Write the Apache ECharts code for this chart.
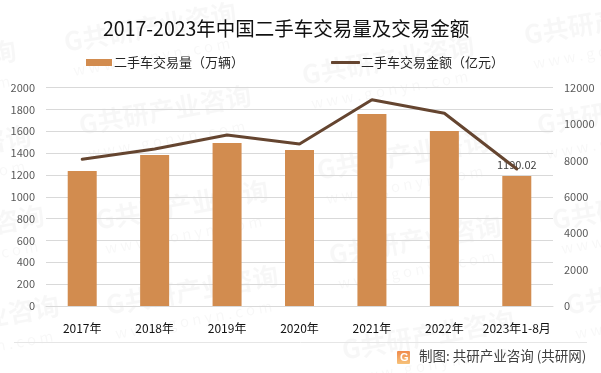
<!DOCTYPE html>
<html>
<head>
<meta charset="utf-8">
<style>
html,body{margin:0;padding:0;background:#fff;}
#main{width:601px;height:373px;}
</style>
<script src="https://cdn.jsdelivr.net/npm/echarts@6/dist/echarts.min.js"></script>
</head>
<body>
<div id="main"></div>
<script>
var categories = ['2017年','2018年','2019年','2020年','2021年','2022年','2023年1-8月'];
var volumeValues = [1236,1382,1492,1428,1758,1602,1190.02];
var amountValues = [8057,8622,9391,8897,11330,10583,7524];
var volumeName = '二手车交易量（万辆）';
var amountName = '二手车交易金额（亿元）';
var titleText = '2017-2023年中国二手车交易量及交易金额';
var footText = '制图: 共研产业咨询 (共研网)';

// 水印位置
var markPos = [
    [-155,85],[-140,170],[-127,250],[-112,340],
    [65,47],[80,130],[97,225],[107,310],
    [303,80],[318,175],[330,260],[343,355],
    [525,40],[538,130],[553,225],[567,310]
];

var font = '"Noto Sans CJK SC","Noto Sans",sans-serif';
var graphics = [];
for (var i = 0; i < markPos.length; i++) {
    graphics.push({
        type: 'group',
        x: markPos[i][0],
        y: markPos[i][1],
        rotation: 10 * Math.PI / 180,
        silent: true,
        z: -10,
        children: [
            {type: 'text', x: 0, y: -18, style: {text: 'G共研产业咨询', font: 'bold 26px ' + font, fill: 'rgba(0,0,0,0.032)'}},
            {type: 'text', x: 4, y: 17, style: {text: 'w w w . g o n y n . c o m', font: '15px ' + font, fill: 'rgba(0,0,0,0.032)'}}
        ]
    });
}
// 底部分割线
graphics.push({type: 'line', silent: true, shape: {x1: 14, y1: 342.5, x2: 587, y2: 342.5}, style: {stroke: '#e6e6e6', lineWidth: 1}});
// logo
graphics.push({type: 'rect', silent: true, shape: {x: 397, y: 351, width: 13, height: 13, r: 1},
    style: {fill: new echarts.graphic.LinearGradient(0, 0, 0, 1, [
        {offset: 0, color: '#f08a4b'},
        {offset: 1, color: '#f6c27a'}
    ])}});
graphics.push({type: 'text', silent: true, x: 400, y: 352, style: {text: 'G', font: 'bold 11px "Liberation Sans"', fill: '#fff'}});
graphics.push({type: 'text', silent: true, x: 419, y: 349, style: {text: footText, font: '13.5px ' + font, fill: '#404040'}});

function plainNum(v) {
    return String(v);
}

var chart = echarts.init(document.getElementById('main'));
var option = {
    animation: false,
    backgroundColor: '#fff',
    title: {
        text: titleText,
        left: 103,
        top: 19,
        padding: 0,
        textStyle: {color: '#111', fontSize: 19.5, fontWeight: 'normal', fontFamily: font}
    },
    legend: [{
        left: 86,
        top: 56,
        padding: 0,
        icon: 'rect',
        itemWidth: 26,
        itemHeight: 7,
        selectedMode: false,
        textStyle: {color: '#262626', fontSize: 13, fontFamily: font, padding: [0, 0, 0, -3]},
        data: [volumeName]
    }, {
        left: 331,
        top: 56,
        padding: 0,
        icon: 'roundRect',
        itemWidth: 29,
        itemHeight: 3,
        selectedMode: false,
        textStyle: {color: '#262626', fontSize: 13, fontFamily: font, padding: [0, 0, 0, -4]},
        data: [amountName]
    }],
    grid: {left: 46, right: 48, top: 87.5, bottom: 67},
    xAxis: {
        type: 'category',
        data: categories,
        axisLine: {lineStyle: {color: '#d9d9d9', width: 1}},
        axisTick: {show: false},
        axisLabel: {color: '#111', fontSize: 12, fontFamily: font, margin: 16, interval: 0}
    },
    yAxis: [{
        type: 'value',
        min: 0,
        max: 2000,
        interval: 200,
        axisLine: {show: false},
        axisTick: {show: false},
        axisLabel: {color: '#595959', fontSize: 11, fontFamily: font, margin: 11, formatter: plainNum},
        splitLine: {lineStyle: {color: '#d9d9d9', width: 1}}
    }, {
        type: 'value',
        min: 0,
        max: 12000,
        interval: 2000,
        axisLine: {show: false},
        axisTick: {show: false},
        axisLabel: {color: '#595959', fontSize: 11, fontFamily: font, margin: 11, formatter: plainNum},
        splitLine: {show: false}
    }],
    series: [{
        name: volumeName,
        type: 'bar',
        barWidth: 29,
        yAxisIndex: 0,
        itemStyle: {color: '#d28c4f'},
        label: {
            show: true,
            position: 'top',
            offset: [0, -1],
            color: '#404040',
            fontSize: 11,
            fontFamily: font,
            formatter: function (params) {
                return params.dataIndex === volumeValues.length - 1 ? params.value : '';
            }
        },
        z: 2,
        data: volumeValues
    }, {
        name: amountName,
        type: 'line',
        yAxisIndex: 1,
        symbol: 'none',
        lineStyle: {color: '#654530', width: 3, cap: 'round'},
        itemStyle: {color: '#654530'},
        z: 3,
        data: amountValues
    }],
    graphic: graphics
};
chart.setOption(option);
</script>
</body>
</html>
